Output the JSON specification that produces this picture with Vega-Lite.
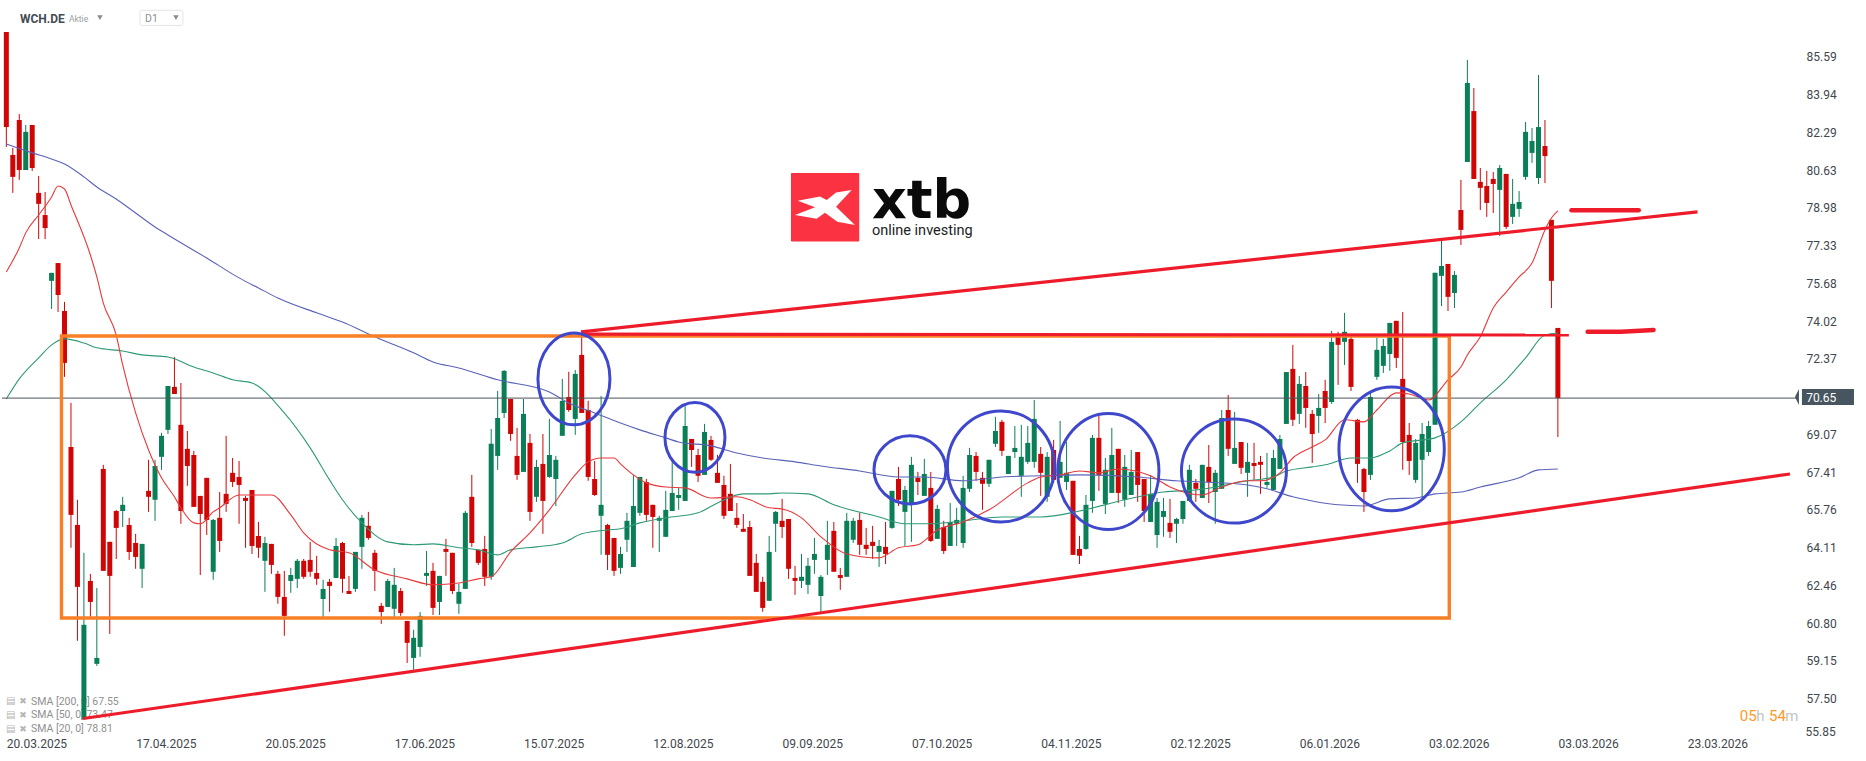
{"$schema":"https://vega.github.io/schema/vega-lite/v6.json","width":1866,"height":761,"padding":0,"autosize":{"type":"none"},"background":"#ffffff","config":{"view":{"stroke":null},"text":{"font":"Roboto"},"scale":{"continuousPadding":0}},
"datasets":{
"candles":[
{"bar":0,"o":86.67,"h":86.67,"l":81.64,"c":82.51},{"bar":1,"o":81.29,"h":81.6,"l":79.63,"c":80.33},{"bar":2,"o":82.82,"h":83.08,"l":80.2,"c":80.63},{"bar":3,"o":80.63,"h":82.6,"l":80.63,"c":82.3},{"bar":4,"o":82.6,"h":82.6,"l":80.59,"c":80.72},{"bar":5,"o":79.63,"h":80.37,"l":77.61,"c":79.15},{"bar":6,"o":78.66,"h":79.67,"l":77.61,"c":78.09},{"bar":7,"o":75.78,"h":76.13,"l":74.55,"c":76.13},{"bar":8,"o":76.56,"h":76.56,"l":74.42,"c":75.16},{"bar":9,"o":74.46,"h":74.86,"l":71.58,"c":72.19},
{"bar":10,"o":68.51,"h":70.44,"l":64.1,"c":65.54},{"bar":11,"o":65.1,"h":66.2,"l":60.03,"c":62.39},{"bar":12,"o":56.61,"h":63.88,"l":56.57,"c":60.73},{"bar":13,"o":62.65,"h":62.96,"l":61.08,"c":61.73},{"bar":14,"o":59.02,"h":62.34,"l":58.93,"c":59.28},{"bar":15,"o":67.55,"h":67.73,"l":63.09,"c":63.09},{"bar":16,"o":64.36,"h":64.36,"l":60.33,"c":62.87},{"bar":17,"o":65.71,"h":65.76,"l":63.61,"c":64.97},{"bar":18,"o":65.71,"h":66.33,"l":65.01,"c":65.98},{"bar":19,"o":65.1,"h":65.41,"l":63.57,"c":63.92},
{"bar":20,"o":64.31,"h":64.71,"l":63.18,"c":63.7},{"bar":21,"o":63.18,"h":64.27,"l":62.34,"c":64.27},{"bar":22,"o":66.59,"h":67.95,"l":65.67,"c":66.33},{"bar":23,"o":66.2,"h":67.95,"l":65.28,"c":67.68},{"bar":24,"o":68.08,"h":69.13,"l":67.51,"c":69.0},{"bar":25,"o":69.26,"h":71.18,"l":69.08,"c":71.18},{"bar":26,"o":71.14,"h":72.45,"l":70.83,"c":70.83},{"bar":27,"o":69.48,"h":71.31,"l":65.15,"c":65.71},{"bar":28,"o":68.43,"h":69.21,"l":66.81,"c":67.68},{"bar":29,"o":68.16,"h":68.34,"l":65.89,"c":65.89},
{"bar":30,"o":66.37,"h":66.37,"l":62.91,"c":65.58},{"bar":31,"o":67.16,"h":67.16,"l":64.66,"c":65.32},{"bar":32,"o":63.05,"h":65.36,"l":62.7,"c":65.32},{"bar":33,"o":65.41,"h":66.54,"l":63.92,"c":64.4},{"bar":34,"o":66.46,"h":69.0,"l":65.67,"c":66.02},{"bar":35,"o":67.38,"h":68.03,"l":66.76,"c":66.98},{"bar":36,"o":67.2,"h":67.9,"l":65.15,"c":66.85},{"bar":37,"o":66.28,"h":66.37,"l":64.1,"c":66.15},{"bar":38,"o":66.63,"h":66.63,"l":63.83,"c":64.18},{"bar":39,"o":64.62,"h":65.23,"l":63.66,"c":64.1},
{"bar":40,"o":63.53,"h":64.58,"l":62.17,"c":64.31},{"bar":41,"o":64.27,"h":64.27,"l":62.96,"c":63.35},{"bar":42,"o":62.96,"h":63.09,"l":61.65,"c":61.95},{"bar":43,"o":61.95,"h":63.09,"l":60.25,"c":61.12},{"bar":44,"o":62.65,"h":63.22,"l":62.13,"c":62.91},{"bar":45,"o":62.74,"h":63.61,"l":62.34,"c":63.53},{"bar":46,"o":63.53,"h":63.61,"l":62.74,"c":62.83},{"bar":47,"o":63.57,"h":64.36,"l":62.83,"c":63.05},{"bar":48,"o":63.0,"h":63.75,"l":62.48,"c":62.74},{"bar":49,"o":61.86,"h":62.7,"l":61.08,"c":62.3},
{"bar":50,"o":62.61,"h":62.74,"l":61.3,"c":62.43},{"bar":51,"o":62.78,"h":64.53,"l":62.78,"c":64.18},{"bar":52,"o":64.31,"h":64.36,"l":62.13,"c":62.74},{"bar":53,"o":62.21,"h":62.87,"l":62.08,"c":62.08},{"bar":54,"o":62.3,"h":63.92,"l":62.17,"c":63.92},{"bar":55,"o":64.14,"h":65.54,"l":63.18,"c":65.41},{"bar":56,"o":65.06,"h":65.67,"l":64.45,"c":64.53},{"bar":57,"o":63.88,"h":64.01,"l":62.21,"c":63.09},{"bar":58,"o":61.56,"h":61.69,"l":60.77,"c":61.29},{"bar":59,"o":61.51,"h":62.74,"l":61.51,"c":62.65},
{"bar":60,"o":61.43,"h":63.22,"l":61.08,"c":62.48},{"bar":61,"o":62.21,"h":62.34,"l":61.12,"c":61.25},{"bar":62,"o":60.9,"h":60.9,"l":59.06,"c":59.94},{"bar":63,"o":59.28,"h":60.51,"l":58.76,"c":60.16},{"bar":64,"o":59.76,"h":61.29,"l":59.33,"c":61.12},{"bar":65,"o":62.87,"h":63.96,"l":62.43,"c":63.0},{"bar":66,"o":63.09,"h":63.44,"l":61.16,"c":61.47},{"bar":67,"o":61.73,"h":62.87,"l":61.16,"c":62.87},{"bar":68,"o":64.05,"h":64.49,"l":62.87,"c":63.92},{"bar":69,"o":63.88,"h":63.88,"l":62.08,"c":62.21},
{"bar":70,"o":61.65,"h":62.52,"l":61.21,"c":62.17},{"bar":71,"o":62.3,"h":65.71,"l":62.3,"c":65.63},{"bar":72,"o":66.33,"h":67.29,"l":64.14,"c":64.31},{"bar":73,"o":64.01,"h":64.01,"l":63.35,"c":63.44},{"bar":74,"o":64.05,"h":64.62,"l":62.43,"c":62.83},{"bar":75,"o":62.83,"h":69.3,"l":62.7,"c":68.65},{"bar":76,"o":68.12,"h":70.96,"l":67.51,"c":69.78},{"bar":77,"o":70.0,"h":71.88,"l":69.78,"c":71.84},{"bar":78,"o":70.61,"h":70.61,"l":68.78,"c":69.08},{"bar":79,"o":68.12,"h":69.35,"l":67.07,"c":67.29},
{"bar":80,"o":67.42,"h":70.61,"l":67.42,"c":69.96},{"bar":81,"o":68.69,"h":69.08,"l":65.28,"c":65.67},{"bar":82,"o":66.33,"h":67.95,"l":66.11,"c":67.64},{"bar":83,"o":67.77,"h":69.08,"l":64.71,"c":66.15},{"bar":84,"o":67.2,"h":69.74,"l":67.16,"c":68.16},{"bar":85,"o":67.11,"h":68.12,"l":65.93,"c":67.95},{"bar":86,"o":69.0,"h":71.49,"l":69.0,"c":70.53},{"bar":87,"o":70.7,"h":71.8,"l":70.05,"c":70.13},{"bar":88,"o":69.74,"h":71.88,"l":69.04,"c":71.71},{"bar":89,"o":72.54,"h":73.33,"l":70.0,"c":70.0},
{"bar":90,"o":70.13,"h":70.53,"l":67.03,"c":67.2},{"bar":91,"o":67.11,"h":67.9,"l":66.37,"c":66.41},{"bar":92,"o":65.5,"h":70.74,"l":63.79,"c":65.98},{"bar":93,"o":65.1,"h":65.15,"l":63.13,"c":63.79},{"bar":94,"o":64.53,"h":64.53,"l":62.87,"c":63.09},{"bar":95,"o":63.22,"h":64.14,"l":62.96,"c":63.83},{"bar":96,"o":64.45,"h":65.63,"l":63.92,"c":65.28},{"bar":97,"o":63.26,"h":67.29,"l":63.26,"c":65.93},{"bar":98,"o":65.63,"h":67.2,"l":65.5,"c":67.2},{"bar":99,"o":66.98,"h":67.11,"l":65.28,"c":65.54},
{"bar":100,"o":65.98,"h":65.98,"l":64.1,"c":65.45},{"bar":101,"o":65.28,"h":65.5,"l":63.92,"c":65.41},{"bar":102,"o":64.58,"h":66.59,"l":64.58,"c":65.76},{"bar":103,"o":65.71,"h":67.9,"l":65.71,"c":66.5},{"bar":104,"o":66.28,"h":66.72,"l":65.76,"c":66.41},{"bar":105,"o":66.15,"h":70.4,"l":66.15,"c":69.43},{"bar":106,"o":68.86,"h":68.86,"l":67.64,"c":68.38},{"bar":107,"o":68.16,"h":68.43,"l":66.98,"c":67.25},{"bar":108,"o":67.29,"h":69.52,"l":67.29,"c":69.17},{"bar":109,"o":68.82,"h":69.0,"l":67.9,"c":67.95},
{"bar":110,"o":67.38,"h":68.16,"l":66.94,"c":66.94},{"bar":111,"o":66.85,"h":67.25,"l":65.36,"c":65.5},{"bar":112,"o":66.46,"h":67.77,"l":65.71,"c":65.71},{"bar":113,"o":65.41,"h":66.06,"l":64.97,"c":65.1},{"bar":114,"o":64.93,"h":65.58,"l":64.8,"c":64.8},{"bar":115,"o":65.01,"h":65.28,"l":62.87,"c":62.87},{"bar":116,"o":63.44,"h":63.83,"l":62.17,"c":62.17},{"bar":117,"o":62.61,"h":62.83,"l":61.3,"c":61.47},{"bar":118,"o":61.78,"h":64.62,"l":61.78,"c":63.92},{"bar":119,"o":65.15,"h":65.71,"l":63.92,"c":65.67},
{"bar":120,"o":65.28,"h":66.24,"l":64.53,"c":65.01},{"bar":121,"o":65.36,"h":65.36,"l":62.74,"c":63.18},{"bar":122,"o":62.78,"h":63.31,"l":62.04,"c":62.65},{"bar":123,"o":62.65,"h":63.83,"l":62.34,"c":62.83},{"bar":124,"o":62.48,"h":63.66,"l":62.08,"c":63.31},{"bar":125,"o":63.57,"h":64.53,"l":62.96,"c":63.83},{"bar":126,"o":61.99,"h":62.91,"l":61.3,"c":62.83},{"bar":127,"o":63.57,"h":65.28,"l":62.91,"c":64.23},{"bar":128,"o":64.84,"h":65.23,"l":63.05,"c":63.05},{"bar":129,"o":62.91,"h":63.22,"l":62.26,"c":62.78},
{"bar":130,"o":62.83,"h":65.63,"l":62.83,"c":65.28},{"bar":131,"o":64.45,"h":65.41,"l":64.31,"c":65.28},{"bar":132,"o":65.32,"h":65.63,"l":63.79,"c":64.23},{"bar":133,"o":64.23,"h":64.97,"l":63.79,"c":64.05},{"bar":134,"o":64.36,"h":65.06,"l":63.61,"c":64.18},{"bar":135,"o":63.92,"h":64.45,"l":63.26,"c":64.18},{"bar":136,"o":64.14,"h":65.23,"l":63.39,"c":63.83},{"bar":137,"o":64.97,"h":66.59,"l":64.93,"c":66.59},{"bar":138,"o":67.11,"h":67.64,"l":65.93,"c":66.2},{"bar":139,"o":65.67,"h":66.81,"l":64.18,"c":66.63},
{"bar":140,"o":66.02,"h":68.08,"l":64.36,"c":67.73},{"bar":141,"o":67.16,"h":67.42,"l":66.41,"c":66.98},{"bar":142,"o":66.37,"h":67.99,"l":66.37,"c":67.33},{"bar":143,"o":66.72,"h":67.42,"l":64.36,"c":64.4},{"bar":144,"o":64.49,"h":65.98,"l":64.49,"c":65.8},{"bar":145,"o":65.01,"h":65.28,"l":63.83,"c":63.96},{"bar":146,"o":64.18,"h":66.06,"l":64.18,"c":65.23},{"bar":147,"o":65.15,"h":65.85,"l":64.18,"c":65.32},{"bar":148,"o":64.31,"h":67.25,"l":64.1,"c":66.72},{"bar":149,"o":66.68,"h":68.47,"l":66.54,"c":68.16},
{"bar":150,"o":68.12,"h":68.29,"l":67.03,"c":67.42},{"bar":151,"o":67.16,"h":67.42,"l":65.76,"c":66.9},{"bar":152,"o":66.9,"h":67.95,"l":66.76,"c":67.95},{"bar":153,"o":68.65,"h":69.83,"l":68.51,"c":69.21},{"bar":154,"o":69.61,"h":69.7,"l":68.12,"c":68.34},{"bar":155,"o":67.33,"h":68.12,"l":67.33,"c":68.12},{"bar":156,"o":68.29,"h":69.43,"l":68.03,"c":68.47},{"bar":157,"o":67.25,"h":69.48,"l":66.33,"c":68.08},{"bar":158,"o":67.86,"h":69.43,"l":67.77,"c":68.69},{"bar":159,"o":67.86,"h":70.57,"l":67.6,"c":69.74},
{"bar":160,"o":68.21,"h":68.51,"l":66.37,"c":67.38},{"bar":161,"o":66.33,"h":68.29,"l":66.11,"c":68.08},{"bar":162,"o":68.38,"h":68.82,"l":66.94,"c":67.07},{"bar":163,"o":67.16,"h":69.65,"l":67.16,"c":67.86},{"bar":164,"o":66.98,"h":68.73,"l":66.63,"c":67.38},{"bar":165,"o":67.03,"h":67.03,"l":63.79,"c":63.79},{"bar":166,"o":64.05,"h":64.62,"l":63.39,"c":63.75},{"bar":167,"o":64.05,"h":66.41,"l":64.01,"c":65.98},{"bar":168,"o":66.15,"h":69.04,"l":65.63,"c":68.91},{"bar":169,"o":68.91,"h":69.87,"l":66.59,"c":67.29},
{"bar":170,"o":66.02,"h":68.03,"l":65.58,"c":67.51},{"bar":171,"o":66.5,"h":69.35,"l":66.5,"c":68.16},{"bar":172,"o":68.43,"h":68.43,"l":66.06,"c":66.5},{"bar":173,"o":66.2,"h":68.16,"l":65.89,"c":67.64},{"bar":174,"o":66.41,"h":68.38,"l":66.41,"c":67.42},{"bar":175,"o":68.29,"h":68.29,"l":66.11,"c":66.85},{"bar":176,"o":67.11,"h":67.11,"l":65.23,"c":65.71},{"bar":177,"o":65.23,"h":67.29,"l":65.23,"c":66.46},{"bar":178,"o":64.66,"h":66.28,"l":64.1,"c":66.11},{"bar":179,"o":65.45,"h":66.28,"l":64.58,"c":65.71},
{"bar":180,"o":65.19,"h":66.24,"l":64.53,"c":64.8},{"bar":181,"o":65.15,"h":65.41,"l":64.31,"c":65.36},{"bar":182,"o":65.36,"h":66.15,"l":65.15,"c":66.15},{"bar":183,"o":66.15,"h":67.73,"l":66.11,"c":67.51},{"bar":184,"o":66.94,"h":67.11,"l":66.11,"c":66.68},{"bar":185,"o":66.28,"h":67.73,"l":66.28,"c":67.73},{"bar":186,"o":67.64,"h":68.6,"l":66.06,"c":66.98},{"bar":187,"o":66.54,"h":67.51,"l":65.15,"c":67.38},{"bar":188,"o":66.68,"h":70.13,"l":66.68,"c":69.78},{"bar":189,"o":70.13,"h":70.79,"l":68.12,"c":68.43},
{"bar":190,"o":67.77,"h":70.05,"l":67.77,"c":68.47},{"bar":191,"o":68.73,"h":68.73,"l":67.33,"c":67.6},{"bar":192,"o":67.38,"h":68.69,"l":66.33,"c":67.86},{"bar":193,"o":67.81,"h":68.69,"l":67.07,"c":67.68},{"bar":194,"o":67.86,"h":68.12,"l":66.46,"c":67.73},{"bar":195,"o":66.85,"h":68.25,"l":66.72,"c":66.98},{"bar":196,"o":66.63,"h":68.38,"l":66.63,"c":68.03},{"bar":197,"o":67.55,"h":69.04,"l":67.55,"c":68.86},{"bar":198,"o":69.52,"h":71.79,"l":69.52,"c":71.79},{"bar":199,"o":71.93,"h":72.98,"l":69.43,"c":69.7},
{"bar":200,"o":69.96,"h":71.62,"l":69.52,"c":71.27},{"bar":201,"o":71.18,"h":71.79,"l":69.35,"c":70.22},{"bar":202,"o":69.96,"h":70.13,"l":67.81,"c":69.08},{"bar":203,"o":69.87,"h":70.83,"l":69.13,"c":70.22},{"bar":204,"o":70.96,"h":71.45,"l":69.56,"c":70.22},{"bar":205,"o":70.48,"h":73.59,"l":70.4,"c":73.11},{"bar":206,"o":73.37,"h":73.55,"l":71.23,"c":72.98},{"bar":207,"o":73.11,"h":74.38,"l":72.1,"c":73.55},{"bar":208,"o":73.24,"h":73.37,"l":70.96,"c":71.14},{"bar":209,"o":69.7,"h":69.74,"l":66.94,"c":67.77},
{"bar":210,"o":67.55,"h":67.6,"l":65.67,"c":66.54},{"bar":211,"o":67.29,"h":70.88,"l":67.07,"c":70.7},{"bar":212,"o":71.58,"h":73.28,"l":71.45,"c":72.76},{"bar":213,"o":72.06,"h":73.24,"l":71.75,"c":72.93},{"bar":214,"o":72.58,"h":73.94,"l":71.84,"c":73.94},{"bar":215,"o":74.03,"h":74.03,"l":71.97,"c":72.41},{"bar":216,"o":71.49,"h":74.42,"l":67.51,"c":68.73},{"bar":217,"o":69.04,"h":69.56,"l":67.29,"c":67.9},{"bar":218,"o":67.07,"h":68.86,"l":66.94,"c":68.69},{"bar":219,"o":67.95,"h":69.56,"l":66.28,"c":69.08},
{"bar":220,"o":68.29,"h":69.65,"l":68.12,"c":69.43},{"bar":221,"o":69.48,"h":76.13,"l":69.48,"c":76.13},{"bar":222,"o":76.0,"h":77.57,"l":74.68,"c":76.43},{"bar":223,"o":76.52,"h":76.52,"l":74.46,"c":75.08},{"bar":224,"o":75.25,"h":76.21,"l":74.59,"c":76.04},{"bar":225,"o":78.88,"h":80.2,"l":77.35,"c":78.01},{"bar":226,"o":80.98,"h":85.45,"l":80.98,"c":84.44},{"bar":227,"o":83.21,"h":84.22,"l":80.24,"c":80.24},{"bar":228,"o":80.11,"h":80.72,"l":78.88,"c":79.85},{"bar":229,"o":79.93,"h":80.59,"l":78.58,"c":79.19},
{"bar":230,"o":80.24,"h":80.54,"l":78.75,"c":80.02},{"bar":231,"o":79.76,"h":80.85,"l":77.74,"c":80.72},{"bar":232,"o":80.46,"h":80.46,"l":78.05,"c":78.14},{"bar":233,"o":78.58,"h":80.24,"l":78.27,"c":79.15},{"bar":234,"o":78.93,"h":79.71,"l":78.58,"c":79.23},{"bar":235,"o":80.33,"h":82.73,"l":80.2,"c":82.3},{"bar":236,"o":81.38,"h":82.47,"l":80.94,"c":81.9},{"bar":237,"o":80.28,"h":84.79,"l":80.02,"c":82.51},{"bar":238,"o":81.68,"h":82.82,"l":80.06,"c":81.24},{"bar":239,"o":78.45,"h":78.45,"l":74.59,"c":75.78},{"bar":240,"o":73.72,"h":73.72,"l":68.95,"c":70.65}
],
"sma200":[{"bar":0,"p":81.77},{"bar":4,"p":81.38},{"bar":7,"p":81.11},{"bar":9,"p":80.89},{"bar":12,"p":80.33},{"bar":14,"p":79.89},{"bar":17,"p":79.36},{"bar":20,"p":78.75},{"bar":23,"p":78.14},{"bar":25,"p":77.79},{"bar":31,"p":76.78},{"bar":36,"p":75.91},{"bar":39,"p":75.47},{"bar":42,"p":75.03},{"bar":48,"p":74.38},{"bar":52,"p":73.98},{"bar":57,"p":73.33},{"bar":63,"p":72.63},{"bar":66,"p":72.23},{"bar":70,"p":71.97},{"bar":76,"p":71.45},{"bar":84,"p":70.92},{"bar":87,"p":70.44},{"bar":91,"p":70.0},{"bar":95,"p":69.56},{"bar":98,"p":69.26},{"bar":102,"p":68.91},{"bar":104,"p":68.73},{"bar":109,"p":68.56},{"bar":113,"p":68.25},{"bar":117,"p":68.03},{"bar":122,"p":67.86},{"bar":126,"p":67.68},{"bar":132,"p":67.46},{"bar":138,"p":67.2},{"bar":142,"p":67.2},{"bar":148,"p":67.03},{"bar":154,"p":67.2},{"bar":160,"p":67.25},{"bar":166,"p":67.29},{"bar":175,"p":67.2},{"bar":181,"p":67.03},{"bar":185,"p":66.98},{"bar":192,"p":66.85},{"bar":195,"p":66.68},{"bar":199,"p":66.33},{"bar":202,"p":66.15},{"bar":206,"p":65.98},{"bar":210,"p":65.93},{"bar":214,"p":66.24},{"bar":218,"p":66.28},{"bar":221,"p":66.46},{"bar":225,"p":66.54},{"bar":228,"p":66.76},{"bar":234,"p":67.16},{"bar":237,"p":67.51},{"bar":240,"p":67.55}],
"sma50":[{"bar":0,"p":70.61},{"bar":2,"p":71.49},{"bar":5,"p":72.41},{"bar":7,"p":72.98},{"bar":9,"p":73.24},{"bar":12,"p":73.06},{"bar":14,"p":72.85},{"bar":18,"p":72.71},{"bar":21,"p":72.54},{"bar":25,"p":72.45},{"bar":29,"p":72.01},{"bar":32,"p":71.75},{"bar":35,"p":71.45},{"bar":38,"p":71.31},{"bar":43,"p":70.0},{"bar":47,"p":68.47},{"bar":50,"p":67.07},{"bar":52,"p":66.2},{"bar":55,"p":65.19},{"bar":59,"p":64.36},{"bar":63,"p":64.23},{"bar":66,"p":64.27},{"bar":70,"p":64.1},{"bar":73,"p":64.01},{"bar":76,"p":63.79},{"bar":78,"p":64.01},{"bar":82,"p":64.14},{"bar":86,"p":64.31},{"bar":89,"p":64.71},{"bar":93,"p":64.88},{"bar":95,"p":64.93},{"bar":98,"p":65.19},{"bar":102,"p":65.41},{"bar":107,"p":65.63},{"bar":110,"p":66.06},{"bar":114,"p":66.46},{"bar":118,"p":66.46},{"bar":120,"p":66.5},{"bar":124,"p":66.46},{"bar":128,"p":65.98},{"bar":135,"p":65.45},{"bar":139,"p":65.15},{"bar":143,"p":65.15},{"bar":148,"p":65.28},{"bar":154,"p":65.45},{"bar":160,"p":65.45},{"bar":166,"p":65.71},{"bar":173,"p":66.2},{"bar":179,"p":66.54},{"bar":184,"p":66.63},{"bar":192,"p":67.03},{"bar":196,"p":67.2},{"bar":198,"p":67.46},{"bar":202,"p":67.64},{"bar":204,"p":67.73},{"bar":208,"p":68.03},{"bar":211,"p":68.03},{"bar":214,"p":68.34},{"bar":216,"p":68.69},{"bar":221,"p":68.91},{"bar":225,"p":69.61},{"bar":228,"p":70.44},{"bar":232,"p":71.45},{"bar":235,"p":72.41},{"bar":238,"p":73.41},{"bar":240,"p":73.5}],
"sma20":[{"bar":0,"p":76.17},{"bar":2,"p":77.22},{"bar":3,"p":77.88},{"bar":5,"p":78.66},{"bar":7,"p":79.45},{"bar":8,"p":79.93},{"bar":9,"p":79.8},{"bar":10,"p":79.1},{"bar":13,"p":76.91},{"bar":14,"p":75.95},{"bar":15,"p":74.81},{"bar":17,"p":73.41},{"bar":18,"p":72.1},{"bar":20,"p":70.0},{"bar":22,"p":68.38},{"bar":24,"p":67.16},{"bar":26,"p":66.33},{"bar":27,"p":65.85},{"bar":29,"p":65.19},{"bar":30,"p":65.15},{"bar":32,"p":65.67},{"bar":33,"p":65.85},{"bar":36,"p":66.41},{"bar":41,"p":66.41},{"bar":44,"p":65.54},{"bar":46,"p":64.75},{"bar":50,"p":64.01},{"bar":53,"p":63.88},{"bar":57,"p":63.13},{"bar":62,"p":62.74},{"bar":66,"p":62.48},{"bar":70,"p":62.56},{"bar":73,"p":62.74},{"bar":75,"p":62.83},{"bar":78,"p":63.92},{"bar":81,"p":64.75},{"bar":84,"p":65.76},{"bar":88,"p":67.29},{"bar":90,"p":67.86},{"bar":92,"p":68.03},{"bar":94,"p":68.03},{"bar":95,"p":67.77},{"bar":97,"p":67.29},{"bar":99,"p":66.94},{"bar":102,"p":66.76},{"bar":105,"p":66.72},{"bar":109,"p":66.28},{"bar":113,"p":66.33},{"bar":115,"p":66.2},{"bar":118,"p":65.85},{"bar":120,"p":65.8},{"bar":123,"p":65.41},{"bar":126,"p":64.58},{"bar":130,"p":63.83},{"bar":135,"p":63.66},{"bar":138,"p":64.1},{"bar":141,"p":64.23},{"bar":144,"p":64.88},{"bar":148,"p":65.23},{"bar":152,"p":65.76},{"bar":158,"p":66.94},{"bar":160,"p":67.2},{"bar":163,"p":67.29},{"bar":166,"p":67.46},{"bar":169,"p":67.38},{"bar":172,"p":67.55},{"bar":177,"p":67.25},{"bar":180,"p":66.76},{"bar":185,"p":66.41},{"bar":188,"p":66.76},{"bar":192,"p":67.03},{"bar":194,"p":67.03},{"bar":197,"p":67.38},{"bar":199,"p":68.03},{"bar":202,"p":68.51},{"bar":204,"p":68.82},{"bar":207,"p":69.7},{"bar":210,"p":69.61},{"bar":212,"p":70.13},{"bar":215,"p":70.88},{"bar":217,"p":70.83},{"bar":220,"p":70.57},{"bar":223,"p":71.45},{"bar":225,"p":72.01},{"bar":226,"p":72.54},{"bar":228,"p":73.33},{"bar":230,"p":74.59},{"bar":232,"p":75.29},{"bar":234,"p":75.95},{"bar":236,"p":76.56},{"bar":238,"p":78.01},{"bar":239,"p":78.53},{"bar":240,"p":78.84}],
"trend":[{"n":"upper","bar":88.9,"p":73.55},{"n":"upper","bar":261.6,"p":78.8},{"n":"mid","bar":88.9,"p":73.45},{"n":"mid","bar":241.7,"p":73.41},{"n":"lower","bar":11.9,"p":56.63},{"n":"lower","bar":275.9,"p":67.33}],
"dash":[{"n":"d1","bar":242.1,"p":78.87},{"n":"d1","bar":252.5,"p":78.87},{"n":"d2","bar":244.6,"p":73.55},{"n":"d2","bar":249.8,"p":73.55},{"n":"d2","bar":254.8,"p":73.63}],
"ellipses":[
{"e":1,"k":0,"bar":93.37,"p":71.49},{"e":1,"k":1,"bar":91.74,"p":72.91},{"e":1,"k":2,"bar":87.8,"p":73.5},{"e":1,"k":3,"bar":83.86,"p":72.91},{"e":1,"k":4,"bar":82.23,"p":71.49},{"e":1,"k":5,"bar":83.86,"p":70.07},{"e":1,"k":6,"bar":87.8,"p":69.48},{"e":1,"k":7,"bar":91.74,"p":70.07},
{"e":2,"k":0,"bar":111.16,"p":68.93},{"e":2,"k":1,"bar":109.8,"p":70.01},{"e":2,"k":2,"bar":106.52,"p":70.46},{"e":2,"k":3,"bar":103.24,"p":70.01},{"e":2,"k":4,"bar":101.88,"p":68.93},{"e":2,"k":5,"bar":103.24,"p":67.85},{"e":2,"k":6,"bar":106.52,"p":67.4},{"e":2,"k":7,"bar":109.8,"p":67.85},
{"e":3,"k":0,"bar":145.35,"p":67.51},{"e":3,"k":1,"bar":143.72,"p":68.56},{"e":3,"k":2,"bar":139.78,"p":69.0},{"e":3,"k":3,"bar":135.84,"p":68.56},{"e":3,"k":4,"bar":134.21,"p":67.51},{"e":3,"k":5,"bar":135.84,"p":66.46},{"e":3,"k":6,"bar":139.78,"p":66.02},{"e":3,"k":7,"bar":143.72,"p":66.46},
{"e":4,"k":0,"bar":162.13,"p":67.66},{"e":4,"k":1,"bar":159.7,"p":69.38},{"e":4,"k":2,"bar":153.85,"p":70.09},{"e":4,"k":3,"bar":148.0,"p":69.38},{"e":4,"k":4,"bar":145.57,"p":67.66},{"e":4,"k":5,"bar":148.0,"p":65.94},{"e":4,"k":6,"bar":153.85,"p":65.23},{"e":4,"k":7,"bar":159.7,"p":65.94},
{"e":5,"k":0,"bar":178.29,"p":67.44},{"e":5,"k":1,"bar":176.0,"p":69.23},{"e":5,"k":2,"bar":170.46,"p":69.98},{"e":5,"k":3,"bar":164.92,"p":69.23},{"e":5,"k":4,"bar":162.63,"p":67.44},{"e":5,"k":5,"bar":164.92,"p":65.65},{"e":5,"k":6,"bar":170.46,"p":64.9},{"e":5,"k":7,"bar":176.0,"p":65.65},
{"e":6,"k":0,"bar":198.01,"p":67.46},{"e":6,"k":1,"bar":195.63,"p":69.07},{"e":6,"k":2,"bar":189.89,"p":69.74},{"e":6,"k":3,"bar":184.15,"p":69.07},{"e":6,"k":4,"bar":181.77,"p":67.46},{"e":6,"k":5,"bar":184.15,"p":65.85},{"e":6,"k":6,"bar":189.89,"p":65.18},{"e":6,"k":7,"bar":195.63,"p":65.85},
{"e":7,"k":0,"bar":222.43,"p":68.43},{"e":7,"k":1,"bar":220.04,"p":70.35},{"e":7,"k":2,"bar":214.28,"p":71.14},{"e":7,"k":3,"bar":208.52,"p":70.35},{"e":7,"k":4,"bar":206.13,"p":68.43},{"e":7,"k":5,"bar":208.52,"p":66.51},{"e":7,"k":6,"bar":214.28,"p":65.72},{"e":7,"k":7,"bar":220.04,"p":66.51}
]},
"encoding":{"x":{"field":"bar","type":"quantitative","scale":{"domain":[-0.98,287.66],"nice":false,"zero":false,"padding":0},"axis":{"orient":"bottom","offset":-23,"values":[0,20,40,60,80,100,120,140,160,180,200,220,240,260],"labelExpr":"{'0':'20.03.2025','20':'17.04.2025','40':'20.05.2025','60':'17.06.2025','80':'15.07.2025','100':'12.08.2025','120':'09.09.2025','140':'07.10.2025','160':'04.11.2025','180':'02.12.2025','200':'06.01.2026','220':'03.02.2026','240':'03.03.2026','260':'23.03.2026'}[''+datum.value]","labelAlign":"left","labelBaseline":"top","labelPadding":0,"labelFont":"Roboto","labelFontSize":12,"labelColor":"#3f474d","labelOverlap":false,"labelBound":false,"ticks":false,"domain":false,"grid":false,"title":null}},"y":{"field":"p","type":"quantitative","scale":{"domain":[54.77,88.07],"nice":false,"zero":false,"padding":0},"axis":{"orient":"right","offset":-60,"values":[85.59,83.94,82.29,80.63,78.98,77.33,75.68,74.02,72.37,69.07,67.41,65.76,64.11,62.46,60.8,59.15,57.5],"format":".2f","labelAlign":"left","labelPadding":0,"labelFont":"Roboto","labelFontSize":12,"labelColor":"#3f474d","labelOverlap":false,"labelBound":false,"ticks":false,"domain":false,"grid":false,"title":null}}},
"layer":[
{"data":{"values":[{"bar":278.3,"p":55.85,"t":"55.85"}]},"mark":{"type":"text","align":"left","baseline":"middle","dy":-4,"font":"Roboto","fontSize":12,"color":"#3f474d"},"encoding":{"text":{"field":"t"}}},
{"data":{"values":[{"bar":3.81,"p":57.37,"t":"SMA [200, 0] 67.55"},{"bar":3.81,"p":56.77,"t":"SMA [50, 0] 73.47"},{"bar":3.81,"p":56.16,"t":"SMA [20, 0] 78.81"}]},"mark":{"type":"text","align":"left","baseline":"middle","font":"Roboto","fontSize":10.5,"color":"#8f8f8f"},"encoding":{"text":{"field":"t"}}},
{"data":{"values":[{"bar":-0.05,"p":57.4,"t":"▤"},{"bar":-0.05,"p":56.8,"t":"▤"},{"bar":-0.05,"p":56.19,"t":"▤"}]},"mark":{"type":"text","align":"left","baseline":"middle","font":"DejaVu Sans","fontSize":10,"color":"#b5b5b5"},"encoding":{"text":{"field":"t"}}},
{"data":{"values":[{"bar":2.0,"p":57.4,"t":"✖"},{"bar":2.0,"p":56.8,"t":"✖"},{"bar":2.0,"p":56.19,"t":"✖"}]},"mark":{"type":"text","align":"left","baseline":"middle","font":"DejaVu Sans","fontSize":9,"color":"#b5b5b5"},"encoding":{"text":{"field":"t"}}},
{"data":{"name":"candles"},"mark":{"type":"rule","strokeWidth":1},"encoding":{"y":{"field":"l","type":"quantitative"},"y2":{"field":"h"},"color":{"condition":{"test":"datum.c>=datum.o","value":"#0a7f57"},"value":"#d00606"}}},
{"data":{"name":"candles"},"mark":{"type":"bar","size":5},"encoding":{"y":{"field":"o","type":"quantitative"},"y2":{"field":"c"},"color":{"condition":{"test":"datum.c>=datum.o","value":"#0a7f57"},"value":"#d00606"}}},
{"data":{"name":"sma200"},"mark":{"type":"line","color":"#5a62b8","strokeWidth":1.1,"interpolate":"monotone"}},
{"data":{"name":"sma50"},"mark":{"type":"line","color":"#2f9a77","strokeWidth":1.1,"interpolate":"monotone"}},
{"data":{"name":"sma20"},"mark":{"type":"line","color":"#e8383a","strokeWidth":1.1,"interpolate":"monotone"}},
{"data":{"values":[{"bar":-0.67,"bar2":277,"p":70.65}]},"mark":{"type":"rule","color":"#4a545b","strokeWidth":1},"encoding":{"x2":{"field":"bar2"}}},
{"data":{"values":[{"bar":8.53,"bar2":223.2,"p":73.37,"p2":61.03}]},"mark":{"type":"rect","fillOpacity":0,"stroke":"#f97f27","strokeWidth":3.4},"encoding":{"x2":{"field":"bar2"},"y2":{"field":"p2"}}},
{"data":{"name":"trend"},"mark":{"type":"line","color":"#ee1c2b","strokeWidth":3.2},"encoding":{"detail":{"field":"n"}}},
{"data":{"name":"dash"},"mark":{"type":"line","color":"#ee1c2b","strokeWidth":4.5,"strokeCap":"round"},"encoding":{"detail":{"field":"n"}}},
{"data":{"name":"ellipses"},"mark":{"type":"line","color":"#3f48cc","strokeWidth":3,"interpolate":"cardinal-closed","tension":-0.125},"encoding":{"detail":{"field":"e"},"order":{"field":"k"}}},
{"data":{"values":[{"bar":277.75,"bar2":285.8,"p":71.05,"p2":70.35}]},"mark":{"type":"rect","fill":"#46555f"},"encoding":{"x2":{"field":"bar2"},"y2":{"field":"p2"}}},
{"data":{"values":[{"bar":276.67,"p":70.7}]},"mark":{"type":"point","shape":"M 0.5 -1 L 0.5 1 L 0 0 Z","filled":true,"fill":"#46555f","opacity":1,"size":256}},
{"data":{"values":[{"bar":278.4,"p":70.65,"t":"70.65"}]},"mark":{"type":"text","align":"left","baseline":"middle","font":"Roboto","fontSize":12,"color":"#ffffff"},"encoding":{"text":{"field":"t"}}},
{"data":{"values":[{"bar":121.37,"bar2":131.93,"p":80.5,"p2":77.5}]},"mark":{"type":"rect","fill":"#fa3241","cornerRadius":1},"encoding":{"x2":{"field":"bar2"},"y2":{"field":"p2"}}},
{"data":{"values":[{"bar":126.63,"p":79.0}]},"mark":{"type":"point","shape":"M -0.91 -0.22 L -0.17 -0.36 L 0.06 -0.24 L 0.37 -0.49 L 0.89 -0.58 L 0.37 -0.02 L 1 0.59 L 0.41 0.48 L 0 0.18 L -0.28 0.38 L -1 0.26 L -0.33 0 Z","filled":true,"fill":"#ffffff","opacity":1,"size":3600}},
{"data":{"values":[{"bar":133.9,"p":78.53,"t":"xtb"}]},"mark":{"type":"text","align":"left","baseline":"alphabetic","font":"DejaVu Sans","fontWeight":"bold","fontSize":54,"color":"#0a0a0a"},"encoding":{"text":{"field":"t"}}},
{"data":{"values":[{"bar":133.9,"p":77.79,"t":"online investing"}]},"mark":{"type":"text","align":"left","baseline":"alphabetic","font":"Roboto","fontSize":14.5,"color":"#222222"},"encoding":{"text":{"field":"t"}}},
{"data":{"values":[{"bar":2.11,"p":87.24,"t":"WCH.DE"}]},"mark":{"type":"text","align":"left","baseline":"middle","font":"Roboto","fontWeight":"bold","fontSize":12,"color":"#434c52"},"encoding":{"text":{"field":"t"}}},
{"data":{"values":[{"bar":9.69,"p":87.22,"t":"Aktie"}]},"mark":{"type":"text","align":"left","baseline":"middle","font":"Roboto","fontSize":8.5,"color":"#9a9fa3"},"encoding":{"text":{"field":"t"}}},
{"data":{"values":[{"bar":14.48,"p":87.3},{"bar":26.24,"p":87.3}]},"mark":{"type":"point","shape":"triangle-down","filled":true,"fill":"#8a8a8a","opacity":1,"size":30}},
{"data":{"values":[{"bar":20.67,"bar2":27.32,"p":87.62,"p2":86.96}]},"mark":{"type":"rect","fillOpacity":0,"stroke":"#e4e4e4","strokeWidth":1,"cornerRadius":2},"encoding":{"x2":{"field":"bar2"},"y2":{"field":"p2"}}},
{"data":{"values":[{"bar":21.45,"p":87.22,"t":"D1"}]},"mark":{"type":"text","align":"left","baseline":"middle","font":"Roboto","fontSize":10.5,"color":"#8a8f93"},"encoding":{"text":{"field":"t"}}},
{"data":{"values":[{"bar":268.15,"p":56.75,"t":"05"},{"bar":272.65,"p":56.75,"t":"54"}]},"mark":{"type":"text","align":"left","baseline":"middle","font":"Roboto","fontSize":15,"color":"#ff9a1f"},"encoding":{"text":{"field":"t"}}},
{"data":{"values":[{"bar":270.67,"p":56.75,"t":"h"},{"bar":275.15,"p":56.75,"t":"m"}]},"mark":{"type":"text","align":"left","baseline":"middle","font":"Roboto","fontSize":15,"color":"#c4c4c4"},"encoding":{"text":{"field":"t"}}}
]}
